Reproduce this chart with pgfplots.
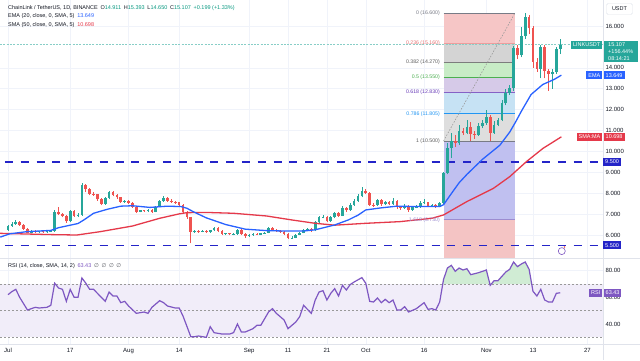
\documentclass[border=0pt]{standalone}
\usepackage{fontspec}
\setmainfont{Liberation Sans}
\newfontfamily\dejavu{DejaVu Sans}
\usepackage{pgfplots}
\usepackage{pgfplotstable}
\pgfplotsset{compat=1.18}

\definecolor{upc}{HTML}{26A69A}
\definecolor{dnc}{HTML}{EF5350}
\definecolor{emac}{HTML}{2962FF}
\definecolor{smac}{HTML}{E5394A}
\definecolor{supc}{HTML}{2424C8}
\definecolor{rsic}{HTML}{7E57C2}
\definecolor{rsiband}{HTML}{F1EDF9}
\definecolor{obfill}{RGB}{208,236,212}
\definecolor{gridc}{HTML}{F0F3FA}
\definecolor{sepc}{HTML}{E0E3EB}
\definecolor{txt}{HTML}{131722}
\definecolor{legup}{HTML}{089981}
\definecolor{fibA}{RGB}{246,198,198}
\definecolor{fibB}{RGB}{212,212,212}
\definecolor{fibC}{RGB}{200,236,198}
\definecolor{fibD}{RGB}{214,202,232}
\definecolor{fibE}{RGB}{198,226,244}
\definecolor{fibF}{RGB}{222,222,222}
\definecolor{fibG}{RGB}{192,192,240}
\definecolor{fibH}{RGB}{244,196,196}
\definecolor{flgrey}{HTML}{787B86}
\definecolor{flred}{HTML}{E57373}
\definecolor{fldark}{HTML}{5D5D5D}
\definecolor{flgreen}{HTML}{4CAF50}
\definecolor{flpurple}{HTML}{673AB7}
\definecolor{flblue}{HTML}{2196F3}
\definecolor{fllav}{HTML}{9C8CD0}

\pgfplotstableread{
d o h l c
0 6.25 6.50 6.20 6.45
1 6.45 6.60 6.40 6.55
2 6.55 6.70 6.50 6.62
6 6.12 6.22 6.08 6.18
8 6.14 6.21 6.10 6.17
10 6.13 6.22 6.10 6.18
11 6.18 6.25 6.14 6.20
12 6.20 7.22 6.16 7.12
16 6.65 7.22 6.60 7.15
18 6.90 7.05 6.85 6.96
19 6.96 8.48 6.92 8.38
25 7.50 7.82 7.45 7.78
26 7.78 8.12 7.72 8.05
30 7.60 7.68 7.55 7.62
34 7.12 7.22 7.08 7.18
36 7.14 7.25 7.10 7.20
38 7.10 7.40 7.08 7.35
39 7.35 7.68 7.32 7.62
40 7.62 7.88 7.58 7.75
48 6.16 6.26 6.10 6.20
50 6.17 6.24 6.13 6.19
52 6.16 6.26 6.12 6.22
53 6.22 6.40 6.18 6.35
56 6.05 6.12 6.00 6.08
58 6.03 6.10 5.98 6.06
59 6.06 6.30 6.02 6.24
62 5.95 6.05 5.92 6.00
63 6.00 6.08 5.96 6.04
65 6.02 6.12 5.98 6.08
66 6.08 6.16 6.04 6.12
67 6.12 6.36 6.08 6.32
73 5.85 5.95 5.80 5.88
74 5.88 6.06 5.84 6.02
75 6.02 6.16 5.98 6.12
76 6.12 6.28 6.08 6.22
77 6.22 6.35 6.18 6.30
79 6.22 6.65 6.18 6.60
80 6.60 6.92 6.55 6.85
81 6.85 6.95 6.80 6.88
83 6.65 6.90 6.62 6.85
84 6.85 7.12 6.80 7.05
86 6.92 7.38 6.90 7.30
88 7.18 7.52 7.15 7.45
89 7.45 7.70 7.40 7.62
90 7.62 7.95 7.58 7.85
91 7.85 8.28 7.80 8.12
95 7.42 7.72 7.38 7.66
97 7.46 7.64 7.42 7.58
99 7.48 7.78 7.45 7.62
102 7.30 7.46 7.25 7.40
104 7.20 7.40 7.15 7.34
105 7.34 7.44 7.28 7.36
106 7.36 7.62 7.30 7.52
107 7.52 7.70 7.46 7.56
109 7.40 7.48 7.35 7.42
111 7.36 7.58 7.32 7.52
112 7.52 9.02 7.46 8.96
113 8.96 10.42 8.90 10.16
114 10.16 10.90 9.70 10.52
116 10.38 11.26 10.30 11.00
118 10.90 11.50 10.82 11.15
121 10.80 11.35 10.75 11.20
122 11.20 11.50 11.10 11.34
123 11.34 12.00 11.28 11.66
125 10.90 11.45 10.85 11.28
126 11.28 11.60 11.20 11.50
127 11.50 12.45 11.45 12.30
128 12.30 13.00 12.20 12.80
129 12.80 13.20 12.70 13.05
130 13.05 15.02 12.90 14.93
132 14.60 15.95 14.50 15.50
133 15.50 16.62 15.40 16.45
137 13.95 15.10 13.50 15.00
140 13.70 13.95 13.00 13.78
141 13.78 14.98 13.70 14.911
142 14.911 15.393 14.650 15.107
}\upT

\pgfplotstableread{
d o h l c
3 6.62 6.66 6.44 6.48
4 6.48 6.52 6.26 6.30
5 6.30 6.33 6.08 6.12
7 6.18 6.22 6.10 6.14
9 6.17 6.20 6.09 6.13
13 7.12 7.32 6.95 7.00
14 7.00 7.05 6.84 6.90
15 6.90 6.95 6.58 6.65
17 7.15 7.20 6.85 6.90
20 8.38 8.46 8.05 8.20
21 8.20 8.25 7.90 7.98
22 7.98 8.05 7.88 7.95
23 7.95 7.98 7.65 7.70
24 7.70 7.75 7.42 7.50
27 8.05 8.10 7.85 7.92
28 7.92 7.95 7.72 7.80
29 7.80 7.84 7.55 7.60
31 7.62 7.66 7.50 7.55
32 7.55 7.60 7.30 7.35
33 7.35 7.38 7.05 7.12
35 7.18 7.22 7.10 7.14
37 7.20 7.24 7.06 7.10
41 7.75 7.80 7.60 7.65
42 7.65 7.70 7.55 7.60
43 7.60 7.64 7.50 7.56
44 7.56 7.60 7.40 7.45
45 7.45 7.48 7.05 7.12
46 7.12 7.15 6.78 6.85
47 6.85 6.88 5.60 6.16
49 6.20 6.25 6.12 6.17
51 6.19 6.22 6.10 6.16
54 6.35 6.40 6.14 6.18
55 6.18 6.22 6.00 6.05
57 6.08 6.12 5.98 6.03
60 6.24 6.28 6.00 6.05
61 6.05 6.08 5.88 5.95
64 6.04 6.08 5.98 6.02
68 6.32 6.38 6.20 6.25
69 6.25 6.30 6.15 6.20
70 6.20 6.24 6.10 6.15
71 6.15 6.18 6.00 6.05
72 6.05 6.08 5.80 5.85
78 6.30 6.34 6.16 6.22
82 6.88 6.92 6.60 6.65
85 7.05 7.10 6.88 6.92
87 7.30 7.35 7.10 7.18
92 8.12 8.22 7.95 8.02
93 8.02 8.08 7.38 7.45
94 7.45 7.55 7.35 7.42
96 7.66 7.70 7.40 7.46
98 7.58 7.62 7.42 7.48
100 7.62 7.66 7.25 7.32
101 7.32 7.38 7.22 7.30
103 7.40 7.44 7.12 7.20
108 7.56 7.60 7.34 7.40
110 7.42 7.46 7.30 7.36
115 10.52 10.80 10.20 10.38
117 11.00 11.12 10.78 10.90
119 11.15 11.40 10.50 10.85
120 10.85 11.00 10.60 10.80
124 11.66 11.75 10.50 10.90
131 14.93 15.10 14.40 14.60
134 16.45 16.55 15.60 15.90
135 15.90 16.00 14.00 14.30
136 14.30 14.45 13.80 13.95
138 15.00 15.10 13.50 13.85
139 13.85 13.95 12.90 13.70
}\dnT

\pgfplotstableread{
d v
-2 5.90
0.5 6.06
4.8 6.16
11 6.22
13 6.35
15 6.43
18 6.55
19.5 6.72
22 7.04
25.5 7.23
29 7.38
32 7.40
36.5 7.32
41 7.38
44.5 7.36
46 7.28
47.6 7.12
51 6.82
56 6.50
61 6.28
66.5 6.21
71.5 6.19
76 6.19
79 6.25
84 6.48
87.5 6.72
90 6.95
92 7.20
96 7.30
100 7.38
105 7.36
111 7.36
112 7.45
114 7.98
116 8.50
118 8.90
122 9.62
126.5 10.30
129 10.92
130.5 11.40
132 11.92
134.5 12.72
137.5 13.20
140.5 13.45
142.3 13.649
}\emaT

\pgfplotstableread{
d v
-2 6.08
6.5 6.04
11 6.02
17.7 6.00
23.7 6.16
32 6.43
39 6.80
44 7.01
46 7.07
51 7.08
58 7.04
66.5 6.91
73 6.72
79 6.56
84 6.47
92 6.56
100.8 6.64
109 6.80
112 6.96
118 7.60
124.8 8.23
129 8.79
133.3 9.51
137.6 10.15
142.3 10.698
}\smaT

\pgfplotstableread{
d v
0 62
1 64.3
2 66
3 60
5 50.5
7 52.5
8 52
10 52.5
11 54
12 70.6
13 67
14 66
15 57
16 66
17 60
18 60
19 74.5
20 70.6
21 66
22 66
24 60
25 57
26 64
27 61
28 61
29 56
30 57
31 53.5
33 48
34 48.5
35 49
36 48
37 52.5
39 57.5
40 56
41 53.5
43 52
44 52
45 46
47 30.5
48 30.5
49 31
51 30
52 38
53 33.5
55 32.5
57 32.5
58 33.5
59 40
60 34
61 34
63 36.5
64 39
65 39
67 49
68 51.5
69 48
71 43
72 36.5
74 41.5
75 45.5
76 54
77 51
78 48
79 58
80 64
81 65
82 58
83 63
84 66.5
85 61
86 69
87 65.5
88 69.6
89 71.5
91 74.8
92 70.5
93 57
94 56.5
95 59.5
96 56
97 58.5
98 56
99 58
100 50.5
101 50.5
102 53
103 49
105 51.5
107 56
108 51
109 51.5
110 50.5
111 56.5
112 73.5
113 82
114 84
115 79.5
116 82
117 80.5
118 81.5
119 77
121 78.5
123 80.5
124 69
125 72.5
126 72.5
128 79
129 81
130 86.5
131 83
132 85
133 86.5
134 81
135 64.5
136 61
137 66
138 58
139 56.5
140 56.5
141 63
142 63.43
}\rsiT

\pgfplotsset{
 pane/.style={
  scale only axis, anchor=south west, width=603pt,
  xmin=-2.06, xmax=153,
  axis line style={draw=none}, tick style={draw=none},
  grid=major, major grid style={gridc, line width=0.5pt},
  xtick={0,16,31,44,62,72,82,92,107,123,135,149},
  clip mode=individual,
  /pgf/number format/assume math mode=true,
  yticklabel pos=right,
  yticklabel style={font=\fontsize{6}{7}\selectfont, text=txt, anchor=west, xshift=-1pt},
 },
 wick/.style={draw=none, mark=none, forget plot, error bars/.cd, y dir=plus, y explicit, error mark=none, error bar style={line width=0.7pt, solid, draw=#1}},
 body/.style={draw=none, mark=none, forget plot, error bars/.cd, y dir=plus, y explicit, error mark=none, error bar style={line width=2.7pt, solid, draw=#1}},
 supline/.style={draw=supc, line width=1.5pt, line cap=butt, dash pattern=on 8pt off 7.8pt, forget plot},
}
\tikzset{
 fiblab/.style={anchor=east, font=\fontsize{5.2}{6}\selectfont, inner sep=0pt},
 tag/.style={font=\fontsize{5.5}{6}\selectfont, text=white, inner xsep=2pt, inner ysep=0pt, minimum height=8pt},
}

\begin{document}
\begin{tikzpicture}[x=1pt,y=1pt]
\fill[white] (0pt,0pt) rectangle (640pt,360pt);

% ---------------- price pane ----------------
\begin{axis}[pane, at={(0pt,102pt)}, height=258pt, ymin=4.9, ymax=17.244,
  ytick={6,7,8,9,10,11,12,13,14,16}, xticklabels={},
  yticklabel style={/pgf/number format/.cd, fixed, fixed zerofill, precision=3}]
% fibonacci bands
\addplot[draw=none, fill=fibA, forget plot] coordinates {(112,15.16)(112,16.6)(130.3,16.6)(130.3,15.16)};
\addplot[draw=none, fill=fibB, forget plot] coordinates {(112,14.27)(112,15.16)(130.3,15.16)(130.3,14.27)};
\addplot[draw=none, fill=fibC, forget plot] coordinates {(112,13.55)(112,14.27)(130.3,14.27)(130.3,13.55)};
\addplot[draw=none, fill=fibD, forget plot] coordinates {(112,12.83)(112,13.55)(130.3,13.55)(130.3,12.83)};
\addplot[draw=none, fill=fibE, forget plot] coordinates {(112,11.805)(112,12.83)(130.3,12.83)(130.3,11.805)};
\addplot[draw=none, fill=fibF, forget plot] coordinates {(112,10.5)(112,11.805)(130.3,11.805)(130.3,10.5)};
\addplot[draw=none, fill=fibG, forget plot] coordinates {(112,6.73)(112,10.5)(130.3,10.5)(130.3,6.73)};
\addplot[draw=none, fill=fibH, forget plot] coordinates {(112,4.0)(112,6.73)(130.3,6.73)(130.3,4.0)};
% fibonacci levels
\addplot[flgrey, line width=0.8pt, forget plot] coordinates {(112,16.6)(130.3,16.6)};
\addplot[flred!70, line width=0.8pt, forget plot] coordinates {(112,15.16)(130.3,15.16)};
\addplot[fldark!80, line width=0.9pt, forget plot] coordinates {(112,14.27)(130.3,14.27)};
\addplot[flgreen, line width=0.8pt, forget plot] coordinates {(112,13.55)(130.3,13.55)};
\addplot[flpurple!80, line width=0.8pt, forget plot] coordinates {(112,12.83)(130.3,12.83)};
\addplot[flblue, line width=0.8pt, forget plot] coordinates {(112,11.805)(130.3,11.805)};
\addplot[flgrey, line width=0.8pt, forget plot] coordinates {(112,10.5)(130.3,10.5)};
\addplot[fllav, line width=0.8pt, forget plot] coordinates {(112,6.73)(130.3,6.73)};
% horizontal support lines
\addplot[supline] coordinates {(-0.8,9.5)(153,9.5)};
\addplot[supline] coordinates {(-0.8,5.5)(153,5.5)};
% fib trend line
\addplot[gray!80, line width=0.6pt, dash pattern=on 1.5pt off 1.5pt, forget plot] coordinates {(112,10.5)(130.3,16.6)};
% current price line
\addplot[upc!55, line width=0.6pt, dash pattern=on 2pt off 1.3pt, forget plot] coordinates {(-2.06,15.107)(153,15.107)};
% candles
\addplot[wick=upc] table[x=d, y=l, y error plus expr=\thisrow{h}-\thisrow{l}] \upT;
\addplot[wick=dnc] table[x=d, y=l, y error plus expr=\thisrow{h}-\thisrow{l}] \dnT;
\addplot[body=upc] table[x=d, y=o, y error plus expr=\thisrow{c}-\thisrow{o}] \upT;
\addplot[body=dnc] table[x=d, y=c, y error plus expr=\thisrow{o}-\thisrow{c}] \dnT;
% moving averages
\addplot[smac, line width=1.3pt, forget plot] table[x=d, y=v] \smaT;
\addplot[emac, line width=1.3pt, forget plot] table[x=d, y=v] \emaT;
% fib labels
\node[fiblab, text=flgrey] at (axis cs:111.1,16.6) {0 (16.600)};
\node[fiblab, text=flred] at (axis cs:111.1,15.16) {0.236 (15.160)};
\node[fiblab, text=fldark] at (axis cs:111.1,14.27) {0.382 (14.270)};
\node[fiblab, text=flgreen] at (axis cs:111.1,13.55) {0.5 (13.550)};
\node[fiblab, text=flpurple] at (axis cs:111.1,12.83) {0.618 (12.830)};
\node[fiblab, text=flblue] at (axis cs:111.1,11.805) {0.786 (11.805)};
\node[fiblab, text=fldark] at (axis cs:111.1,10.5) {1 (10.500)};
\node[fiblab, text=fllav] at (axis cs:111.1,6.73) {1.618 (6.730)};
% icon
\node[circle, draw=rsic, line width=0.6pt, minimum size=7pt, inner sep=0pt] at (axis cs:142.4,5.23) {};
\fill[dnc] (axis cs:143.1,5.43) circle (0.9pt);
% anchors for tags
\coordinate (cLast) at (axis cs:153,15.107);
\coordinate (cEma) at (axis cs:153,13.649);
\coordinate (cSma) at (axis cs:153,10.698);
\coordinate (c95) at (axis cs:153,9.5);
\coordinate (c55) at (axis cs:153,5.5);
\end{axis}

% ---------------- RSI pane ----------------
\begin{axis}[pane, at={(0pt,16pt)}, height=86pt, ymin=25, ymax=89.5,
  ytick={40,60,80},
  xticklabels={Jul,17,Aug,14,Sep,11,21,Oct,16,Nov,13,27},
  xticklabel style={font=\fontsize{6}{7}\selectfont, text=txt, yshift=-0.5pt},
  yticklabel style={/pgf/number format/.cd, fixed, fixed zerofill, precision=2}]
\addplot[draw=none, fill=obfill, forget plot] table[x=d, y=v, restrict x to domain=111:135] \rsiT \closedcycle;
\addplot[draw=none, fill=rsiband, forget plot] coordinates {(-3,30)(-3,70)(154,70)(154,30)};
\addplot[draw=none, fill=white, forget plot] coordinates {(110,20)(110,30)(136,30)(136,20)};
\addplot[gray!80, line width=0.5pt, dash pattern=on 2pt off 2pt, forget plot] coordinates {(-3,70)(154,70)};
\addplot[gray!80, line width=0.5pt, dash pattern=on 2pt off 2pt, forget plot] coordinates {(-3,50)(154,50)};
\addplot[gray!80, line width=0.5pt, dash pattern=on 2pt off 2pt, forget plot] coordinates {(-3,30)(154,30)};
\addplot[rsic, line width=1.2pt, forget plot] table[x=d, y=v] \rsiT;
\coordinate (cRsi) at (axis cs:153,63.43);
\end{axis}

% separators
\draw[sepc, line width=0.6pt] (0pt,102pt) -- (640pt,102pt);
\draw[sepc, line width=0.6pt] (0pt,16pt) -- (640pt,16pt);
\draw[sepc, line width=0.6pt] (603pt,0pt) -- (603pt,360pt);

% legend texts
\node[anchor=base west, inner sep=0pt, font=\fontsize{5.5}{6}\selectfont, text=txt] at (8pt,350.7pt)
 {ChainLink / TetherUS, 1D, BINANCE\enspace O\textcolor{legup}{14.911}\enspace H\textcolor{legup}{15.393}\enspace L\textcolor{legup}{14.650}\enspace C\textcolor{legup}{15.107}\enspace \textcolor{legup}{+0.199 (+1.33\%)}};
\node[anchor=base west, inner sep=0pt, font=\fontsize{5.5}{6}\selectfont, text=txt] at (8pt,342.3pt)
 {EMA (20, close, 0, SMA, 5)\enspace \textcolor{emac}{13.649}};
\node[anchor=base west, inner sep=0pt, font=\fontsize{5.5}{6}\selectfont, text=txt] at (8pt,334pt)
 {SMA (50, close, 0, SMA, 5)\enspace \textcolor{smac}{10.698}};
\node[anchor=base west, inner sep=0pt, font=\fontsize{5.5}{6}\selectfont, text=txt] at (8pt,93pt)
 {RSI (14, close, SMA, 14, 2)\enspace \textcolor{rsic}{63.43}\enspace {\dejavu\color{txt!70}∅\, ∅\, ∅\, ∅}};

% price scale tags
\node[draw=sepc, fill=white, rounded corners=1.5pt, font=\fontsize{5.5}{6}\selectfont, text=txt, minimum width=26pt, minimum height=11pt, inner sep=1pt] at (619.5pt,351pt) {USDT};
\node[tag, fill=upc, anchor=east] at ([xshift=-0.5pt]cLast) {LINKUSDT};
\node[tag, fill=upc, anchor=north west, align=left, font=\fontsize{5.5}{7}\selectfont, minimum width=34pt, inner xsep=2.5pt, inner ysep=1.6pt] at ([xshift=0.5pt,yshift=4pt]cLast) {15.107\\+156.44\%\\08:14:21};
\node[tag, fill=emac, anchor=east] at ([xshift=-0.5pt]cEma) {EMA};
\node[tag, fill=emac, anchor=west] at ([xshift=0.5pt]cEma) {13.649};
\node[tag, fill=smac, anchor=east] at ([xshift=-0.5pt]cSma) {SMA:MA};
\node[tag, fill=smac, anchor=west] at ([xshift=0.5pt]cSma) {10.698};
\node[tag, fill=supc, anchor=west] at ([xshift=0pt]c95) {9.500};
\node[tag, fill=supc, anchor=west] at ([xshift=0pt]c55) {5.500};
\node[tag, fill=rsic, anchor=east] at ([xshift=-0.5pt]cRsi) {RSI};
\node[tag, fill=rsic, anchor=west] at ([xshift=0.5pt]cRsi) {63.43};

\pgfresetboundingbox
\path[use as bounding box] (0pt,0pt) rectangle (640pt,360pt);
\end{tikzpicture}
\end{document}
